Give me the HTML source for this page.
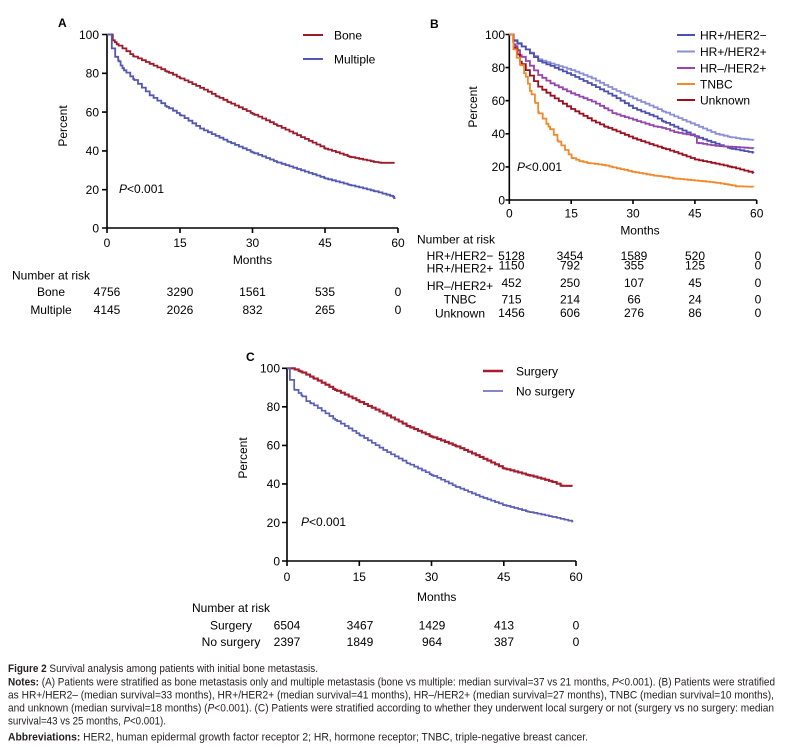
<!DOCTYPE html>
<html><head><meta charset="utf-8">
<style>
html,body{margin:0;padding:0;background:#fff;}
svg{display:block;}
text{font-family:"Liberation Sans",Arial,sans-serif;fill:#000;}
.cap{font-family:"Liberation Sans Narrow","Liberation Sans",sans-serif;font-size:11px;fill:#231f20;}
</style></head>
<body>
<svg width="785" height="750" viewBox="0 0 785 750" xmlns="http://www.w3.org/2000/svg">
<!-- ================= PANEL A ================= -->
<g font-size="12">
<text x="58" y="27" font-weight="bold" font-size="12">A</text>
<text transform="translate(67,126) rotate(-90)" text-anchor="middle">Percent</text>
<g stroke="#000" stroke-width="1.6" fill="none">
<path d="M107,34 V228 H398"/>
<path d="M102,34.5H107M102,73.3H107M102,112.1H107M102,150.9H107M102,189.7H107M102,228H107"/>
<path d="M107,228V233M180,228V233M252.5,228V233M325,228V233M398,228V233"/>
</g>
<g text-anchor="end">
<text x="99" y="39">100</text><text x="99" y="77.6">80</text><text x="99" y="116.4">60</text>
<text x="99" y="155.2">40</text><text x="99" y="194">20</text><text x="99" y="232.3">0</text>
</g>
<g text-anchor="middle">
<text x="107" y="247">0</text><text x="180" y="247">15</text><text x="252.5" y="247">30</text>
<text x="325" y="247">45</text><text x="398" y="247">60</text>
<text x="252.5" y="264">Months</text>
</g>
<text x="119" y="193"><tspan font-style="italic">P</tspan>&lt;0.001</text>
<path d="M303,35H323" stroke="#9b1b2a" stroke-width="2"/>
<path d="M303,59H323" stroke="#5358b0" stroke-width="2"/>
<text x="334" y="39.5">Bone</text>
<text x="334" y="63.5">Multiple</text>
<path id="a1" fill="none" stroke="#9b1b2a" stroke-width="1.8"/>
<path id="a2" fill="none" stroke="#5358b0" stroke-width="1.8"/>
<text x="12" y="279.5">Number at risk</text>
<g text-anchor="middle">
<text x="51" y="296">Bone</text><text x="51" y="314">Multiple</text>
<text x="107" y="296">4756</text><text x="180" y="296">3290</text><text x="252.5" y="296">1561</text><text x="325" y="296">535</text><text x="398" y="296">0</text>
<text x="107" y="314">4145</text><text x="180" y="314">2026</text><text x="252.5" y="314">832</text><text x="325" y="314">265</text><text x="398" y="314">0</text>
</g>
</g>

<!-- ================= PANEL B ================= -->
<g font-size="12">
<text x="430" y="28" font-weight="bold">B</text>
<text transform="translate(477,107) rotate(-90)" text-anchor="middle">Percent</text>
<g stroke="#000" stroke-width="1.6" fill="none">
<path d="M509.3,34 V200 H756.7"/>
<path d="M505.5,34.5H509.3M505.5,67.6H509.3M505.5,100.7H509.3M505.5,133.8H509.3M505.5,166.9H509.3M505.5,200H509.3"/>
<path d="M509.3,200V204M571.2,200V204M633,200V204M694.9,200V204M756.7,200V204"/>
</g>
<g text-anchor="end">
<text x="505" y="39">100</text><text x="505" y="72">80</text><text x="505" y="105">60</text>
<text x="505" y="138">40</text><text x="505" y="171">20</text><text x="505" y="204.3">0</text>
</g>
<g text-anchor="middle">
<text x="509.3" y="217.5">0</text><text x="571.2" y="217.5">15</text><text x="633" y="217.5">30</text>
<text x="694.9" y="217.5">45</text><text x="756.7" y="217.5">60</text>
<text x="640" y="234.5">Months</text>
</g>
<text x="517" y="171"><tspan font-style="italic">P</tspan>&lt;0.001</text>
<path d="M677,35H695" stroke="#4b50ae" stroke-width="2"/>
<path d="M677,51.5H695" stroke="#8b8fd3" stroke-width="2"/>
<path d="M677,68H695" stroke="#9446ad" stroke-width="2"/>
<path d="M677,84H695" stroke="#f08a2c" stroke-width="2"/>
<path d="M677,100H695" stroke="#9a0f1e" stroke-width="2"/>
<text x="700" y="39.5">HR+/HER2−</text>
<text x="700" y="56">HR+/HER2+</text>
<text x="700" y="72.5">HR–/HER2+</text>
<text x="700" y="88.5">TNBC</text>
<text x="700" y="104.5">Unknown</text>
<path id="b2" fill="none" stroke="#8b8fd3" stroke-width="1.8"/>
<path id="b1" fill="none" stroke="#4b50ae" stroke-width="1.8"/>
<path id="b3" fill="none" stroke="#9446ad" stroke-width="1.8"/>
<path id="b5" fill="none" stroke="#9a0f1e" stroke-width="1.8"/>
<path id="b4" fill="none" stroke="#f08a2c" stroke-width="1.8"/>
<text x="417" y="243.5">Number at risk</text>
<g text-anchor="middle">
<text x="460" y="260">HR+/HER2−</text>
<text x="460" y="272.5">HR+/HER2+</text>
<text x="460" y="290">HR–/HER2+</text>
<text x="460" y="303.5">TNBC</text>
<text x="460" y="317.5">Unknown</text>
<text x="511.5" y="260">5128</text><text x="570" y="260">3454</text><text x="634" y="260">1589</text><text x="695" y="260">520</text><text x="758" y="260">0</text>
<text x="511.5" y="269.5">1150</text><text x="570" y="269.5">792</text><text x="634" y="269.5">355</text><text x="695" y="269.5">125</text><text x="758" y="269.5">0</text>
<text x="511.5" y="287">452</text><text x="570" y="287">250</text><text x="634" y="287">107</text><text x="695" y="287">45</text><text x="758" y="287">0</text>
<text x="511.5" y="303.5">715</text><text x="570" y="303.5">214</text><text x="634" y="303.5">66</text><text x="695" y="303.5">24</text><text x="758" y="303.5">0</text>
<text x="511.5" y="317">1456</text><text x="570" y="317">606</text><text x="634" y="317">276</text><text x="695" y="317">86</text><text x="758" y="317">0</text>
</g>
</g>

<!-- ================= PANEL C ================= -->
<g font-size="12">
<text x="246" y="361" font-weight="bold">C</text>
<text transform="translate(247,458) rotate(-90)" text-anchor="middle">Percent</text>
<g stroke="#000" stroke-width="1.6" fill="none">
<path d="M287,368 V561 H576"/>
<path d="M282,368.3H287M282,406.8H287M282,445.4H287M282,483.9H287M282,522.5H287M282,561H287"/>
<path d="M287,561V566M359.3,561V566M431.5,561V566M503.8,561V566M576,561V566"/>
</g>
<g text-anchor="end">
<text x="280" y="372.6">100</text><text x="280" y="411.1">80</text><text x="280" y="449.7">60</text>
<text x="280" y="488.2">40</text><text x="280" y="526.8">20</text><text x="280" y="565.3">0</text>
</g>
<g text-anchor="middle">
<text x="287" y="581">0</text><text x="359.3" y="581">15</text><text x="431.5" y="581">30</text>
<text x="503.8" y="581">45</text><text x="576" y="581">60</text>
<text x="436.7" y="601">Months</text>
</g>
<text x="301" y="526"><tspan font-style="italic">P</tspan>&lt;0.001</text>
<path d="M483,371H503" stroke="#a51c2c" stroke-width="2.6"/>
<path d="M483,391H503" stroke="#5a5fb8" stroke-width="1.6"/>
<text x="516" y="375.5">Surgery</text>
<text x="516" y="395.5">No surgery</text>
<path id="c1" fill="none" stroke="#a51c2c" stroke-width="2.1"/>
<path id="c2" fill="none" stroke="#5a5fb8" stroke-width="1.7"/>
<text x="192" y="612">Number at risk</text>
<g text-anchor="middle">
<text x="231" y="629.5">Surgery</text><text x="231" y="646">No surgery</text>
<text x="287" y="629.5">6504</text><text x="360" y="629.5">3467</text><text x="432" y="629.5">1429</text><text x="504" y="629.5">413</text><text x="576" y="629.5">0</text>
<text x="287" y="646">2397</text><text x="360" y="646">1849</text><text x="432" y="646">964</text><text x="504" y="646">387</text><text x="576" y="646">0</text>
</g>
</g>

<!-- ================= CAPTION ================= -->
<text class="cap" x="8" y="672" textLength="310" lengthAdjust="spacingAndGlyphs"><tspan font-weight="bold">Figure 2</tspan> Survival analysis among patients with initial bone metastasis.</text>
<text class="cap" x="8" y="685.5" textLength="767" lengthAdjust="spacingAndGlyphs"><tspan font-weight="bold">Notes:</tspan> (A) Patients were stratified as bone metastasis only and multiple metastasis (bone vs multiple: median survival=37 vs 21 months, <tspan font-style="italic">P</tspan>&lt;0.001). (B) Patients were stratified</text>
<text class="cap" x="8" y="698.5" textLength="766" lengthAdjust="spacingAndGlyphs">as HR+/HER2– (median survival=33 months), HR+/HER2+ (median survival=41 months), HR–/HER2+ (median survival=27 months), TNBC (median survival=10 months),</text>
<text class="cap" x="8" y="711.5" textLength="766" lengthAdjust="spacingAndGlyphs">and unknown (median survival=18 months) (<tspan font-style="italic">P</tspan>&lt;0.001). (C) Patients were stratified according to whether they underwent local surgery or not (surgery vs no surgery: median</text>
<text class="cap" x="8" y="724.5" textLength="158" lengthAdjust="spacingAndGlyphs">survival=43 vs 25 months, <tspan font-style="italic">P</tspan>&lt;0.001).</text>
<text class="cap" x="8" y="740.5" textLength="580" lengthAdjust="spacingAndGlyphs"><tspan font-weight="bold">Abbreviations:</tspan> HER2, human epidermal growth factor receptor 2; HR, hormone receptor; TNBC, triple-negative breast cancer.</text>
</svg>
<script>
function stepPath(pts,x0,x1,y0,y100,dm){
  var X=function(m){return x0+(x1-x0)*m/60;};
  var Y=function(p){return y0+(y100-y0)*p/100;};
  var f=function(m){for(var i=1;i<pts.length;i++){if(m<=pts[i][0]){var a=pts[i-1],b=pts[i];if(b[0]===a[0])return b[1];return a[1]+(b[1]-a[1])*(m-a[0])/(b[0]-a[0]);}}return pts[pts.length-1][1];};
  var end=pts[pts.length-1][0];
  var ts=[];for(var m=dm;m<end;m+=dm)ts.push(m);
  pts.forEach(function(p){ts.push(p[0]);});
  ts=ts.filter(function(t){return t>0&&t<=end;}).sort(function(a,b){return a-b;});
  var d="M"+X(0).toFixed(1)+","+Y(100).toFixed(1);
  ts.forEach(function(t){d+="H"+X(t).toFixed(1)+"V"+Y(f(t)).toFixed(1);});
  return d;
}
function set(id,pts,x0,x1,y0,y100,dm){document.getElementById(id).setAttribute("d",stepPath(pts,x0,x1,y0,y100,dm));}
// Panel A
set("a1",[[0,100],[1.1,100],[1.2,97],[2,95],[5.4,88.8],[12.3,80.8],[15,77.5],[20,71.5],[22.6,68],[25,65],[30,59],[35,53],[40,47],[45,41],[50,36.8],[55,34.2],[56.5,33.7],[59.3,33.7]],107,398,228,34.5,0.8);
set("a2",[[0,100],[0.9,100],[1,92.8],[1.6,92.8],[1.7,88.5],[2.3,86.7],[2.8,84],[3.5,81.5],[5.4,77],[8.8,68.6],[12.3,62.6],[15,58.5],[19.2,51.4],[25,44.5],[30,39],[35,34],[40,29.8],[45,25.6],[50,22.2],[55,19.1],[59,16.2],[59.3,15]],107,398,228,34.5,0.8);
// Panel B
var bx0=509.3,bx1=756.7,by0=200,by1=34.5;
set("b1",[[0,100],[0.8,100],[1,96.5],[4,91],[7,84],[10,81],[15,75.5],[20,69.5],[25,63],[30,55.5],[35,50.5],[37.4,47.3],[40,44.3],[45,38.5],[50,34],[53.5,31.2],[59.2,28.5]],bx0,bx1,by0,by1,1);
set("b2",[[0,100],[0.8,100],[1,96],[4,91],[7,85],[10,82.5],[15,78.5],[20,73.5],[23,69.5],[25,67],[30,61.4],[35,56],[37.4,53.4],[40,50.5],[45,45.3],[50,40],[53.5,38],[56,37],[59.2,36.2]],bx0,bx1,by0,by1,1);
set("b3",[[0,100],[0.8,100],[1,94],[1.5,93],[2.6,87.5],[4,84],[7,75.5],[10,70.5],[15,64.5],[20,59.5],[23.2,55.4],[25,52.5],[30,48.5],[35,44.5],[37.4,43.5],[40,41],[45,38.7],[45.5,34.5],[50,32.7],[53.5,32.2],[59.2,31.2]],bx0,bx1,by0,by1,1);
set("b5",[[0,100],[0.8,100],[1,92],[1.5,91.5],[2.6,83.6],[4,78.5],[7,68.5],[10,63],[15,55],[20,48],[23.2,44.3],[25,42.5],[30,37.3],[35,33],[37.4,31.2],[40,29],[45,24.5],[50,22],[53.5,20.1],[59.2,16.3]],bx0,bx1,by0,by1,1);
set("b4",[[0,100],[0.8,100],[1,91],[1.8,86],[2.6,82],[4,74.5],[5,66],[6.2,59.4],[7,53],[9.5,44.3],[11.9,35.2],[13.5,30.2],[15.1,25.5],[17,23.5],[19.2,22.3],[23.2,21],[25,19.8],[30,17],[35,14.8],[37.4,14.1],[40,13],[45,11.8],[50,10.5],[53.5,9.1],[55,8.3],[59.2,8]],bx0,bx1,by0,by1,0.9);
// Panel C
set("c1",[[0,100],[1,100],[2.8,98.3],[5.5,94.8],[10,88.8],[15,82.7],[20,76.6],[25,70],[30,64.5],[35,59.7],[40,54],[45,48],[50,44.6],[55,41.2],[57,39],[59.3,39]],287,576,561,368.3,0.8);
set("c2",[[0,100],[0.5,100],[0.6,94],[1.4,94],[1.5,89],[3,86],[4,83],[5,81.8],[10,73.2],[15,65.4],[20,57.6],[25,50.7],[30,44.6],[35,38.6],[40,33.4],[45,29],[50,25.6],[55,23],[59.3,20.4]],287,576,561,368.3,0.8);
</script>
</body></html>
